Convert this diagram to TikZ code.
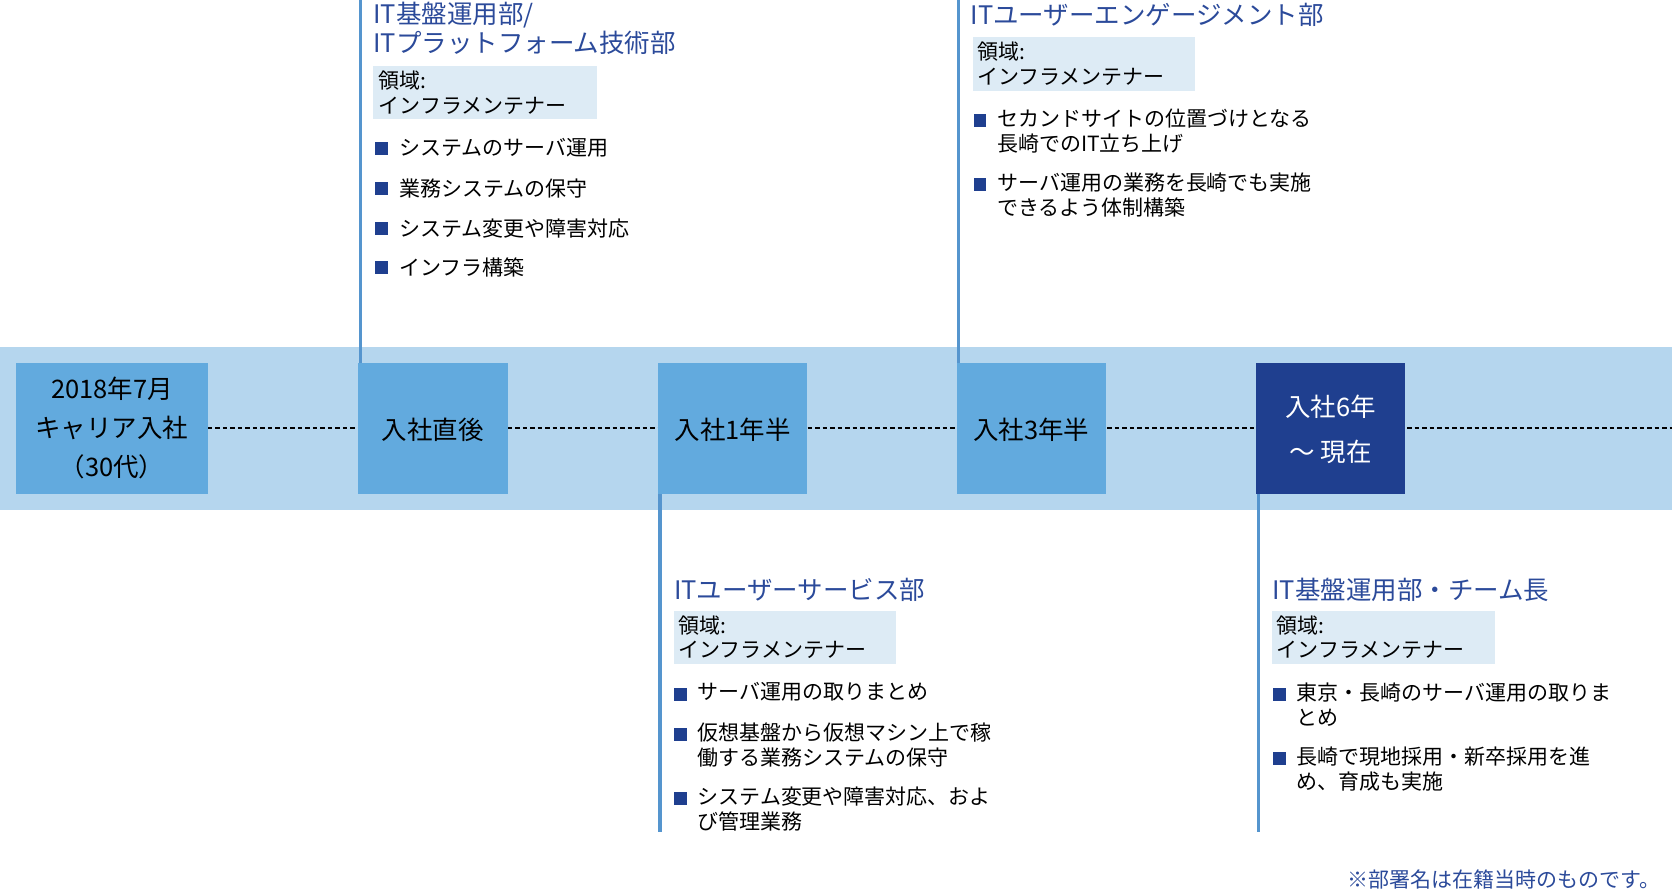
\documentclass[tikz,border=0pt]{standalone}
\usepackage{fontspec}
\setmainfont{Noto Sans CJK JP}
\definecolor{band}{HTML}{B5D6EE}
\definecolor{boxc}{HTML}{62AADE}
\definecolor{dark}{HTML}{1F3F8F}
\definecolor{ttl}{HTML}{2B4A9A}
\definecolor{lab}{HTML}{DDEBF5}
\begin{document}
\begin{tikzpicture}[x=0.25mm,y=-0.25mm,
  stage/.style={fill=boxc,text=black,font=\fontsize{17}{21}\selectfont,align=center},
  ttl/.style={anchor=west,text=ttl,font=\fontsize{17}{19}\selectfont,inner sep=0,align=left},
  lab/.style={anchor=north west,fill=lab,font=\fontsize{13.5}{16}\selectfont,align=left,inner xsep=3pt,inner ysep=3pt},
  bul/.style={anchor=north west,font=\fontsize{14}{16.5}\selectfont,align=left,inner sep=0},
  sq/.style={fill=dark,minimum size=0pt},
  vl/.style={line width=2.2pt,draw=boxc!80!dark}]
\useasboundingbox (0,0) rectangle (1568,835);
\fill[band] (0,325) rectangle (1568,478);
\draw[dashed,line width=1.3pt,dash pattern=on 3pt off 2pt] (195,401) -- (1568,401);
% vertical lines
\draw[vl] (338,0) coordinate (t1) -- (338,340);
\draw[vl] (899,0) coordinate (t2) -- (899,340);
\draw[vl] (619,463) -- (619,780) coordinate (b1);
\draw[vl] (1180,463) -- (1180,780) coordinate (b2);
% boxes
\fill[stage] (15,340) rectangle (195,463);
\node[font=\fontsize{17}{26}\selectfont,align=center] (s0) at (105,401) {2018年7月\\キャリア入社\\（30代）};
\fill[boxc] (336,340) rectangle (476,463); \node[font=\fontsize{17}{21}\selectfont] (s1) at (406,403) {入社直後};
\fill[boxc] (617,340) rectangle (757,463); \node[font=\fontsize{17}{21}\selectfont] (s2) at (687,403) {入社1年半};
\fill[boxc] (897,340) rectangle (1037,463); \node[font=\fontsize{17}{21}\selectfont] (s3) at (967,403) {入社3年半};
\fill[dark] (1178,340) rectangle (1318,463); \node[font=\fontsize{17}{30}\selectfont,text=white,align=center] (s4) at (1248,403) {入社6年\\～ 現在};
% block 1
\node[ttl,anchor=north west] (h1) at (350,2) {IT基盤運用部/\\ITプラットフォーム技術部};
\fill[lab] (350,62) rectangle (560,112);
\node[bul] (l1) at (355,66) {領域:\\インフラメンテナー};
\foreach \y/\t in {139/システムのサーバ運用,177/業務システムの保守,214/システム変更や障害対応,251/インフラ構築}{
  \fill[dark] (352,\y-6) rectangle (364,\y+6);
  \node[bul,anchor=west] at (374,\y) {\t};}
% block 2
\node[ttl] (h2) at (910,14) {ITユーザーエンゲージメント部};
\fill[lab] (912,35) rectangle (1121,85);
\node[bul] (l2) at (916,39) {領域:\\インフラメンテナー};
\fill[dark] (913,107) rectangle (925,119);
\node[bul] at (935,102) {セカンドサイトの位置づけとなる\\長崎でのIT立ち上げ};
\fill[dark] (913,167) rectangle (925,179);
\node[bul] at (935,162) {サーバ運用の業務を長崎でも実施\\できるよう体制構築};
% block 3
\node[ttl] (h3) at (632,553) {ITユーザーサービス部};
\fill[lab] (632,573) rectangle (840,623);
\node[bul] (l3) at (636,577) {領域:\\インフラメンテナー};
\fill[dark] (632,645) rectangle (644,657);
\node[bul] at (654,640) {サーバ運用の取りまとめ};
\fill[dark] (632,683) rectangle (644,695);
\node[bul] at (654,678) {仮想基盤から仮想マシン上で稼\\働する業務システムの保守};
\fill[dark] (632,743) rectangle (644,755);
\node[bul] at (654,738) {システム変更や障害対応、およ\\び管理業務};
% block 4
\node[ttl] (h4) at (1193,553) {IT基盤運用部・チーム長};
\fill[lab] (1193,573) rectangle (1402,623);
\node[bul] (l4) at (1197,577) {領域:\\インフラメンテナー};
\fill[dark] (1194,645) rectangle (1206,657);
\node[bul] at (1216,640) {東京・長崎のサーバ運用の取りま\\とめ};
\fill[dark] (1194,705) rectangle (1206,717);
\node[bul] at (1216,700) {長崎で現地採用・新卒採用を進\\め、育成も実施};
\node[anchor=east,text=ttl,font=\fontsize{14}{16}\selectfont,inner sep=0] (fn) at (1557,825) {※部署名は在籍当時のものです。};
\end{tikzpicture}
\end{document}
